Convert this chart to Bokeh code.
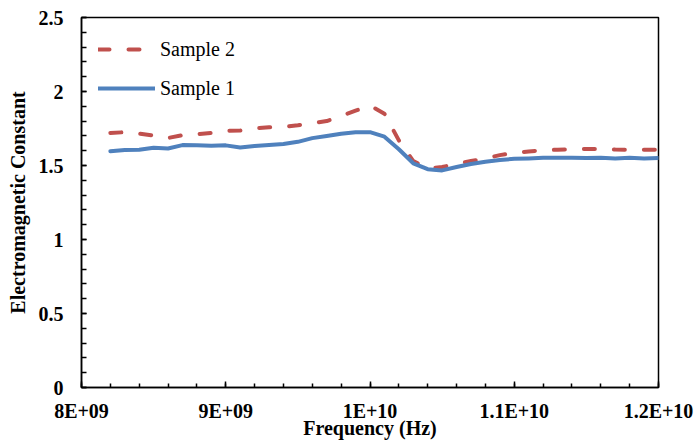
from bokeh.plotting import figure
from bokeh.models import FixedTicker, Range1d, Legend, LegendItem
from bokeh.embed import file_html
from bokeh.resources import INLINE

# Frequency (Hz)
freq = [8.2e9, 8.3e9, 8.4e9, 8.5e9, 8.6e9, 8.7e9, 8.8e9, 8.9e9, 9.0e9, 9.1e9,
        9.2e9, 9.3e9, 9.4e9, 9.5e9, 9.6e9, 9.7e9, 9.8e9, 9.9e9, 10.0e9, 10.1e9,
        10.2e9, 10.3e9, 10.4e9, 10.5e9, 10.6e9, 10.7e9, 10.8e9, 10.9e9, 11.0e9, 11.1e9,
        11.2e9, 11.3e9, 11.4e9, 11.5e9, 11.6e9, 11.7e9, 11.8e9, 11.9e9, 12.0e9]

sample1 = [1.597, 1.604, 1.606, 1.620, 1.615, 1.638, 1.636, 1.634, 1.636, 1.622,
           1.632, 1.638, 1.645, 1.660, 1.685, 1.700, 1.715, 1.725, 1.725, 1.695,
           1.610, 1.515, 1.475, 1.467, 1.490, 1.510, 1.525, 1.537, 1.545, 1.548,
           1.552, 1.553, 1.552, 1.551, 1.553, 1.548, 1.552, 1.548, 1.550]

sample2 = [1.720, 1.725, 1.715, 1.703, 1.686, 1.705, 1.712, 1.720, 1.735, 1.736,
           1.750, 1.759, 1.760, 1.772, 1.786, 1.800, 1.835, 1.870, 1.905, 1.850,
           1.670, 1.530, 1.480, 1.490, 1.510, 1.530, 1.548, 1.570, 1.585, 1.595,
           1.602, 1.607, 1.610, 1.612, 1.612, 1.608, 1.606, 1.606, 1.606]

x_ticks = [8e9, 9e9, 1e10, 1.1e10, 1.2e10]
x_tick_labels = ["8E+09", "9E+09", "1E+10", "1.1E+10", "1.2E+10"]
y_ticks = [0, 0.5, 1, 1.5, 2, 2.5]
y_tick_labels = ["0", "0.5", "1", "1.5", "2", "2.5"]

x_minor = [8e9 + i * 2e8 for i in range(21)]
y_minor = [round(i * 0.1, 1) for i in range(26)]

RED = "#C0504D"
BLUE = "#4F81BD"
SERIF = "Liberation Serif"

p = figure(width=695, height=441, output_backend="svg", toolbar_location=None,
           x_range=Range1d(8e9, 1.2e10), y_range=Range1d(0, 2.5),
           min_border_left=81, min_border_right=37, min_border_top=17, min_border_bottom=54)

p.xgrid.visible = False
p.ygrid.visible = False
p.outline_line_color = "black"
p.outline_line_width = 1.5
p.background_fill_color = "white"
p.border_fill_color = "white"

r2 = p.line(freq, sample2, line_color=RED, line_width=4, line_dash="11 19", line_cap="round")
r1 = p.line(freq, sample1, line_color=BLUE, line_width=4, line_cap="round", line_join="round")

for ax in (p.xaxis[0], p.yaxis[0]):
    ax.axis_line_color = "black"
    ax.axis_line_width = 1.5
    ax.major_tick_line_color = "black"
    ax.minor_tick_line_color = "black"
    ax.major_tick_line_width = 1.5
    ax.minor_tick_line_width = 1.5
    ax.major_tick_out = 0
    ax.minor_tick_out = 0
    ax.major_label_text_font = SERIF
    ax.major_label_text_font_style = "bold"
    ax.major_label_text_font_size = "20px"
    ax.major_label_text_color = "black"
    ax.axis_label_text_font = SERIF
    ax.axis_label_text_font_style = "bold"
    ax.axis_label_text_font_size = "20px"
    ax.axis_label_text_color = "black"

p.xaxis.ticker = FixedTicker(ticks=x_ticks, minor_ticks=x_minor)
p.xaxis.major_label_overrides = dict(zip(x_ticks, x_tick_labels))
p.xaxis.major_tick_in = 6
p.xaxis.minor_tick_in = 4
p.xaxis.major_label_standoff = 12
p.xaxis.axis_label = "Frequency (Hz)"
p.xaxis.axis_label_standoff = -8

p.yaxis.ticker = FixedTicker(ticks=y_ticks, minor_ticks=y_minor)
p.yaxis.major_label_overrides = dict(zip(y_ticks, y_tick_labels))
p.yaxis.major_tick_in = 5
p.yaxis.minor_tick_in = 5
p.yaxis.major_label_standoff = 18
p.yaxis.axis_label = "Electromagnetic Constant"
p.yaxis.axis_label_standoff = 7

legend = Legend(items=[LegendItem(label="Sample 2", renderers=[r2]),
                       LegendItem(label="Sample 1", renderers=[r1])],
                location="top_left", margin=17, padding=5, spacing=9,
                glyph_width=57, glyph_height=30, label_height=30, label_standoff=5,
                label_text_font=SERIF, label_text_font_size="20px", label_text_color="black",
                border_line_color=None, background_fill_alpha=0)
p.add_layout(legend)

open("out.html", "w").write(file_html(p, INLINE))
